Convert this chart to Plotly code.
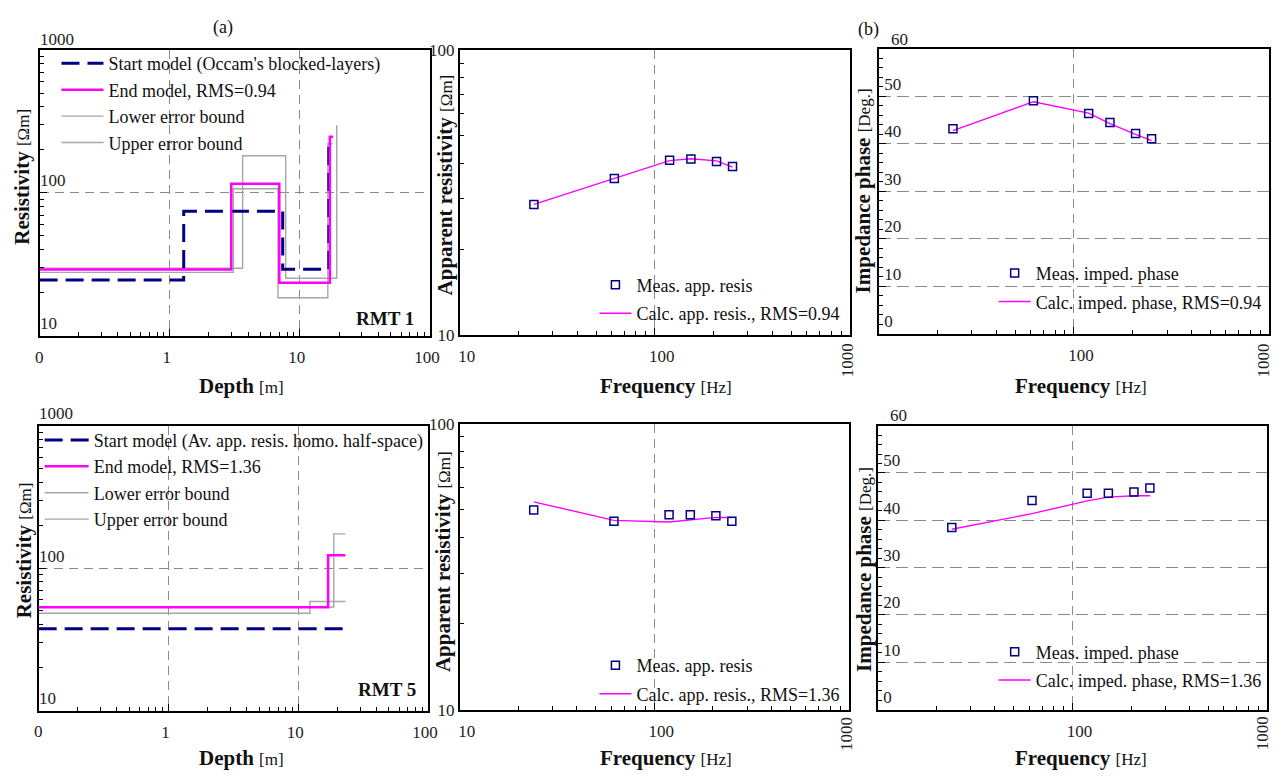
import plotly.graph_objects as go

W, H = 1288, 783
def fx(px): return px / W
def fy(py): return 1 - py / H

SERIF = "Liberation Serif"
NAVY = "#000080"
MAG = "#FF00FF"
GRAY = "#A6A6A6"

# ---------------- data ----------------
rmt1_start_depth = [0.1, 1.28, 7.38, 16.7]
rmt1_start_rho = [24.6, 74.4, 29.3, 232]
rmt1_end_depth = [0.1, 2.97, 6.95, 17.0, 18.0]
rmt1_end_rho = [29.1, 116, 23.5, 247, 247]
rmt1_low_depth = [0.1, 3.08, 6.79, 16.4, 17.8]
rmt1_low_rho = [27.8, 107, 18.5, 221, 221]
rmt1_up_depth = [0.1, 3.63, 7.78, 19.2]
rmt1_up_rho = [29.7, 182, 25.3, 298]

rmt5_start_depth = [0.1, 23.5]
rmt5_start_rho = [37.5, 37.5]
rmt5_end_depth = [0.1, 17.0, 23.1]
rmt5_end_rho = [53.1, 123, 123]
rmt5_low_depth = [0.1, 12.3, 23.1]
rmt5_low_rho = [48.2, 58.3, 58.3]
rmt5_up_depth = [0.1, 18.8, 23.1]
rmt5_up_rho = [53.3, 174, 174]

freq = [24, 62, 119, 153, 207, 250]
rmt1_rho_meas = [28.7, 35.4, 41.0, 41.4, 40.6, 39.0]
rmt1_rho_calc = [28.7, 35.4, 40.9, 41.5, 40.8, 38.8]
rmt1_phase_meas = [43.2, 49.1, 46.4, 44.5, 42.2, 41.1]
rmt1_phase_calc = [42.8, 48.9, 46.5, 44.3, 42.0, 40.7]
rmt5_rho_meas = [49.9, 45.6, 48.0, 48.0, 47.6, 45.6]
rmt5_rho_calc = [53.3, 45.9, 45.3, 46.0, 47.0, 47.0]
rmt5_phase_meas = [38.5, 44.2, 45.7, 45.7, 46.0, 46.8]
rmt5_phase_calc = [38.1, 41.4, 44.1, 44.9, 45.2, 45.2]

depth_ticks = [1, 10, 100]
depth_ticktext = ["1", "10", "100"]
freq_ticks = [10, 100]
freq_ticktext = ["10", "100"]

fig = go.Figure()

def model_traces(n, leg, start, end, low, up, start_name, end_name):
    xa, ya = f"x{n}", f"y{n}"
    fig.add_trace(go.Scatter(x=low[0], y=low[1], mode="lines", line=dict(color=GRAY, width=1.4, shape="hv"),
                             name="Lower error bound", legend=leg, legendrank=3, xaxis=xa, yaxis=ya))
    fig.add_trace(go.Scatter(x=up[0], y=up[1], mode="lines", line=dict(color=GRAY, width=1.4, shape="hv"),
                             name="Upper error bound", legend=leg, legendrank=4, xaxis=xa, yaxis=ya))
    fig.add_trace(go.Scatter(x=start[0], y=start[1], mode="lines",
                             line=dict(color=NAVY, width=3, shape="hv", dash="18px,8px"),
                             name=start_name, legend=leg, legendrank=1, xaxis=xa, yaxis=ya))
    fig.add_trace(go.Scatter(x=end[0], y=end[1], mode="lines", line=dict(color=MAG, width=2.5, shape="hv"),
                             name=end_name, legend=leg, legendrank=2, xaxis=xa, yaxis=ya))

model_traces(1, "legend", (rmt1_start_depth, rmt1_start_rho), (rmt1_end_depth, rmt1_end_rho),
             (rmt1_low_depth, rmt1_low_rho), (rmt1_up_depth, rmt1_up_rho),
             "Start model (Occam's blocked-layers)", "End model, RMS=0.94")
model_traces(4, "legend4", (rmt5_start_depth, rmt5_start_rho), (rmt5_end_depth, rmt5_end_rho),
             (rmt5_low_depth, rmt5_low_rho), (rmt5_up_depth, rmt5_up_rho),
             "Start model (Av. app. resis. homo. half-space)", "End model, RMS=1.36")

def curve_traces(n, leg, meas, calc, meas_name, calc_name):
    xa, ya = f"x{n}", f"y{n}"
    fig.add_trace(go.Scatter(x=freq, y=calc, mode="lines", line=dict(color=MAG, width=1.4),
                             name=calc_name, legend=leg, legendrank=2, legendgroup=f"c{n}", xaxis=xa, yaxis=ya))
    fig.add_trace(go.Scatter(x=freq, y=meas, mode="markers",
                             marker=dict(symbol="square-open", size=8, color=NAVY, line=dict(width=1.5, color=NAVY)),
                             name=meas_name, legend=leg, legendrank=1, legendgroup=f"m{n}", xaxis=xa, yaxis=ya))

curve_traces(2, "legend2", rmt1_rho_meas, rmt1_rho_calc, "Meas. app. resis", "Calc. app. resis., RMS=0.94")
curve_traces(3, "legend3", rmt1_phase_meas, rmt1_phase_calc, "Meas. imped. phase", "Calc. imped. phase, RMS=0.94")
curve_traces(5, "legend5", rmt5_rho_meas, rmt5_rho_calc, "Meas. app. resis", "Calc. app. resis., RMS=1.36")
curve_traces(6, "legend6", rmt5_phase_meas, rmt5_phase_calc, "Meas. imped. phase", "Calc. imped. phase, RMS=1.36")

# ---------------- axes ----------------
def log_minor(d0, d1):
    return [k * 10 ** d for d in range(d0, d1) for k in range(2, 10)]

TICKFONT = dict(family=SERIF, size=17, color="#222")
base = dict(showline=True, linecolor="black", linewidth=1.8, mirror=True, ticks="inside", ticklen=7,
            tickwidth=1.2, tickcolor="black", zeroline=False, gridcolor="#8a8a8a", gridwidth=1,
            griddash="9px,6px", tickfont=TICKFONT)

domains = {
    1: ((38, 432), (42, 335)),
    2: ((462, 856), (42, 334)),
    3: ((885, 1279), (41, 333)),
    4: ((37, 430), (427, 719)),
    5: ((462, 855), (425, 718)),
    6: ((884, 1277), (427, 718)),
}
layout = {}
for n, ((x0, x1), (y0, y1)) in domains.items():
    xd = [fx(x0), fx(x1)]
    yd = [fy(y1), fy(y0)]
    if n in (1, 4):
        xax = dict(base, type="log", range=[-1, 2], tickmode="array", tickvals=depth_ticks,
                   ticktext=depth_ticktext, ticklabelstandoff=5, ticklabelshift=-3,
                   minor=dict(tickmode="array", tickvals=log_minor(-1, 2), ticks="inside", ticklen=4,
                              tickcolor="black", showgrid=False))
        yax = dict(base, type="log", range=[1, 3], tickmode="array", tickvals=[10, 100],
                   ticklabelposition="inside top",
                   minor=dict(tickmode="array", tickvals=log_minor(1, 3), ticks="inside", ticklen=4,
                              tickcolor="black", showgrid=False))
    else:
        xax = dict(base, type="log", range=[1, 3], tickmode="array", tickvals=freq_ticks, ticktext=freq_ticktext,
                   ticklabelstandoff=5, ticklabelshift=7,
                   minor=dict(tickmode="array", tickvals=log_minor(1, 3), ticks="inside", ticklen=4,
                              tickcolor="black", showgrid=False))
        if n in (2, 5):
            yax = dict(base, type="log", range=[1, 2], tickmode="array", tickvals=[10, 100], showgrid=False,
                       ticklabelstandoff=0,
                       minor=dict(tickmode="array", tickvals=log_minor(1, 2), ticks="inside", ticklen=4,
                                  tickcolor="black", showgrid=False))
        else:
            yax = dict(base, range=[0, 60], tickmode="array", tickvals=[0, 10, 20, 30, 40, 50],
                       ticklabelposition="inside top", griddash="12px,6px", ticklabelstandoff=5,
                       minor=dict(dtick=2, ticks="inside", ticklen=4, tickcolor="black", showgrid=False))
    xax.update(domain=xd, anchor=f"y{n}")
    yax.update(domain=yd, anchor=f"x{n}")
    layout["xaxis" if n == 1 else f"xaxis{n}"] = xax
    layout["yaxis" if n == 1 else f"yaxis{n}"] = yax

leg_common = dict(bgcolor="rgba(0,0,0,0)", font=dict(family=SERIF, size=18, color="#111"),
                  xanchor="left", yanchor="top", borderwidth=0)
layout["legend"] = dict(leg_common, x=fx(55), y=fy(37), itemwidth=42)
layout["legend4"] = dict(leg_common, x=fx(38), y=fy(423), itemwidth=44)
for name, (lx, ly) in {"legend2": (598, 264), "legend3": (1001, 252),
                       "legend5": (598, 654), "legend6": (1001, 640)}.items():
    layout[name] = dict(leg_common, x=fx(lx), y=fy(ly), itemwidth=32, traceorder="grouped", tracegroupgap=2)

# ---------------- text ----------------
ann = []
def A(x, y, text, size=17, angle=0, xanchor="center", color="#111"):
    ann.append(dict(x=fx(x), y=fy(y), xref="paper", yref="paper", text=text, showarrow=False,
                    textangle=angle, xanchor=xanchor, yanchor="middle",
                    font=dict(family=SERIF, size=size, color=color)))

def title(main, unit):
    return f"<b>{main}</b> <span style='font-size:17px'>{unit}</span>"

A(20, 172, title("Resistivity", "[Ωm]"), 21, -90)
A(22, 555, title("Resistivity", "[Ωm]"), 21, -90)
A(447, 180, title("Apparent resistivity", "[Ωm]"), 21, -90)
A(445, 566, title("Apparent resistivity", "[Ωm]"), 21, -90)
A(870, 186, title("Impedance phase", "[Deg.]"), 21, -90)
A(870, 574, title("Impedance phase", "[Deg.]"), 21, -90)
for y in (386, 768):
    A(242, y, title("Depth", "[m]"), 21)
    A(670, y, title("Frequency", "[Hz]"), 21)
    A(1089, y, title("Frequency", "[Hz]"), 21)
A(223, 19, "(a)", 18)
A(875, 21, "(b)", 18)
A(418, 317, "<b>RMT 1</b>", 19, xanchor="right")
A(420, 697, "<b>RMT 5</b>", 19, xanchor="right")
for (x, y) in [(853, 360), (1273, 360), (853, 743), (1273, 742)]:
    A(x, y, "1000", 17, -90, color="#222")
A(36, 31, "1000", 17, xanchor="left", color="#222")
A(35, 415, "1000", 17, xanchor="left", color="#222")
A(895, 31, "60", 17, xanchor="left", color="#222")
A(894, 417, "60", 17, xanchor="left", color="#222")
A(38, 357, "0", 17, color="#222")
A(37, 740, "0", 17, color="#222")

fig.update_layout(**layout)
fig.update_layout(width=W, height=H, autosize=False, margin=dict(l=0, r=0, t=0, b=0),
                  paper_bgcolor="white", plot_bgcolor="white", annotations=ann, showlegend=True)
fig.write_html("out.html", config={"displayModeBar": False},
               post_script="document.body.style.margin='0';document.documentElement.style.overflow='hidden';")
